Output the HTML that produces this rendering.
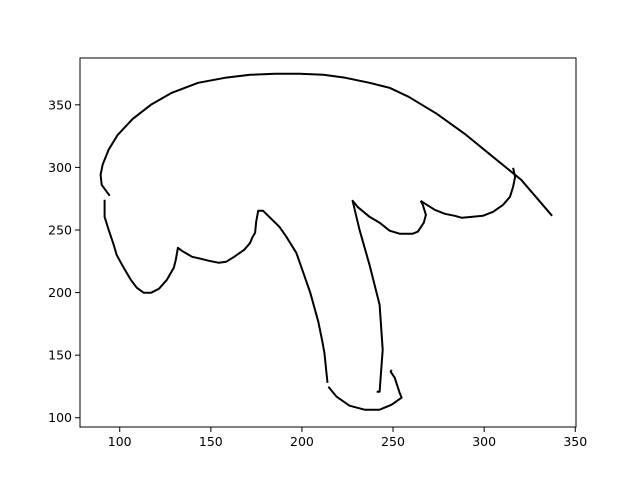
<!DOCTYPE html>
<html><head><meta charset="utf-8"><style>
body{margin:0;background:#fff;}
svg{display:block;font-family:"DejaVu Sans","Liberation Sans",sans-serif;}
</style></head><body>
<svg id="chart" width="640" height="480" viewBox="0 0 640 480"></svg>
<script>
const xTicks=[100,150,200,250,300,350];
const yTicks=[100,150,200,250,300,350];
const strokeCap=[[94.5,277.3],[90.1,286.1],[89.5,294.1],[90.6,302.1],[93.9,314.1],[98.9,326.0],[107.2,338.8],[117.1,350],[128.6,359.6],[143.0,367.6],[157.8,371.6],[171.6,374.0],[185.4,374.8],[198.6,374.8],[211.8,374.0],[223.9,371.6],[237.1,367.6],[248.1,363.6],[258.6,356.4],[274.0,342.8],[289.4,326.8],[304.8,308.5],[320.3,290.1],[337.3,261.3]];
const strokeLeft=[[91.7,274.1],[91.7,260.5],[93.9,250.2],[96.7,238.2],[98.3,230.2],[102.2,219.8],[106.1,210.2],[109.4,203.8],[113.2,199.8],[117.1,199.8],[121.5,203.0],[125.9,210.2],[129.7,219.8],[130.8,226.2],[131.9,235.8],[134.1,233.4],[139.7,228.6],[144.6,227.0],[149.0,225.4],[154.5,223.8],[158.4,224.6],[162.8,228.6],[168.3,234.2],[171.6,239.8],[172.7,243.8],[174.3,247.8],[174.9,256.6],[175.4,260.5],[176.0,265.3],[178.7,265.3],[182.6,259.7],[187.6,252.6],[191.4,244.6],[196.9,231.8],[200.2,218.2],[204.6,199.8],[209.0,176.7],[211.2,160.7],[212.3,151.9],[214.0,127.9]];
const strokeBottom=[[214.5,124.8],[219.0,116.8],[226.1,109.6],[234.4,106.4],[242.6,106.4],[249.2,110.4],[254.7,116.0],[253.6,120.0],[250.9,132.0],[248.7,136.7],[249.2,138.3]];
const strokeStem=[[241.0,120.8],[242.6,120.8],[244.3,154.3],[242.6,190.3],[237.1,222.2],[231.6,250.2],[227.8,273.3],[230.5,268.5],[237.1,260.5],[242.6,255.8],[248.1,249.4],[253.6,247.0],[260.8,247.0],[263.6,248.6],[266.9,255.8],[268.0,262.1],[266.3,270.1],[265.2,273.3]];
const strokeRight=[[265.2,273.3],[268.5,270.1],[272.9,266.1],[278.4,262.9],[283.9,261.3],[287.8,259.7],[293.8,260.5],[299.3,261.3],[304.9,264.5],[310.4,270.1],[314.2,276.5],[315.9,284.5],[317.0,292.5],[315.9,299.7]];
const strokes=[strokeCap,strokeLeft,strokeBottom,strokeStem,strokeRight];
const strokeNames=['cap-outline','left-gill-stroke','stem-base-stroke','stem-right-stroke','right-gill-stroke'];

const L=80,R=576,T=58,B=427;
const xMin=78.2,xMax=350.4,yMin=92.6,yMax=387.4;
const sx=v=>L+(v-xMin)/(xMax-xMin)*(R-L);
const sy=v=>B-(v-yMin)/(yMax-yMin)*(B-T);
const svg=document.getElementById('chart');
const NS='http://www.w3.org/2000/svg';
function mk(tag,attrs){const e=document.createElementNS(NS,tag);for(const k in attrs)e.setAttribute(k,attrs[k]);svg.appendChild(e);return e;}

strokes.forEach((s,i)=>{
  const p=mk('polyline',{points:s.map(d=>sx(d[0]).toFixed(1)+','+sy(d[1]).toFixed(1)).join(' '),fill:'none',stroke:'#000','stroke-width':2,'stroke-linejoin':'round'});
  
  
});

const frame=mk('rect',{x:L,y:T,width:R-L,height:B-T,fill:'none',stroke:'#000','stroke-width':1});



xTicks.forEach(v=>{
  const x=sx(v);
  const t=mk('line',{x1:x,x2:x,y1:B,y2:B+5,stroke:'#000','stroke-width':1});
  
  
  const l=mk('text',{x:x,y:B+19,'text-anchor':'middle','font-size':12.5});
  l.textContent=v;
  
  
});
yTicks.forEach(v=>{
  const y=sy(v);
  const t=mk('line',{x1:L-5,x2:L,y1:y,y2:y,stroke:'#000','stroke-width':1});
  
  
  const l=mk('text',{x:L-8,y:y+4.5,'text-anchor':'end','font-size':12.5});
  l.textContent=v;
  
  
});
</script>
</body></html>
